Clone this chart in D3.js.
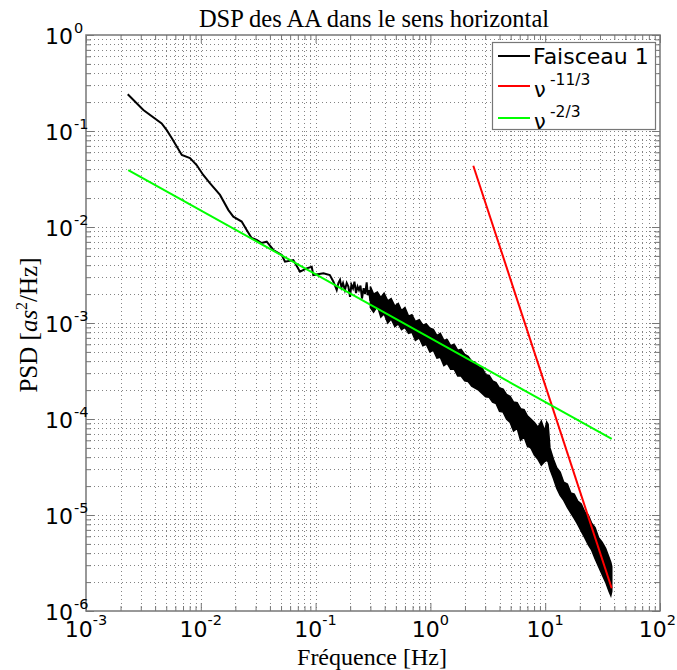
<!DOCTYPE html>
<html><head><meta charset="utf-8">
<script src="https://cdn.jsdelivr.net/npm/d3@7"></script>
<style>body{margin:0;background:#fff}</style></head>
<body>
<svg id="c" width="677" height="670"></svg>
<script>
// ---- data ----
const lineFreq = [0.00231, 0.00316, 0.00456, 0.00505, 0.00558, 0.00683, 0.00805, 0.0092, 0.0105, 0.012, 0.0147, 0.0174, 0.0192, 0.0227, 0.0251, 0.0277, 0.0307, 0.0339, 0.0375, 0.0429, 0.0507, 0.0541, 0.064, 0.0731, 0.0836, 0.0925, 0.0955, 0.117, 0.133, 0.143,
  0.1527, 0.158, 0.1632, 0.168, 0.1733, 0.18, 0.1866, 0.193, 0.1995, 0.205, 0.2117, 0.218, 0.2248, 0.232, 0.2388, 0.246, 0.2536, 0.262, 0.27, 0.2786, 0.285, 0.2918, 0.30];
const linePsd = [0.241, 0.1655, 0.120, 0.102, 0.0846, 0.0562, 0.0523, 0.0442, 0.0348, 0.0287, 0.0216, 0.0150, 0.0128, 0.0114, 0.00931, 0.00768, 0.00733, 0.00681, 0.00703, 0.00576, 0.00511, 0.00435, 0.00453, 0.00342, 0.00371, 0.00386, 0.00316, 0.0033, 0.00316, 0.00269,
  0.00221, 0.0026, 0.00281, 0.00235, 0.0026, 0.0022, 0.00261, 0.0024, 0.00187, 0.0025, 0.0023, 0.0027, 0.00205, 0.0024, 0.0022, 0.00245, 0.0018, 0.0023, 0.0020, 0.00265, 0.00195, 0.0022, 0.0017];
const bandFreq = [0.30, 0.32, 0.345, 0.37, 0.395, 0.425, 0.455, 0.49, 0.525, 0.56, 0.60, 0.645, 0.69, 0.74, 0.80, 0.86, 0.92, 0.99, 1.06, 1.14, 1.22, 1.31, 1.40, 1.50, 1.61, 1.73, 1.85, 1.99, 2.13, 2.29, 2.45, 2.63, 2.82, 3.03, 3.25, 3.48, 3.73, 4.0, 4.3, 4.6, 4.95, 5.3, 5.7, 6.1, 6.55, 7.0, 7.5, 8.05, 8.65, 9.25, 9.9, 10.3, 10.6, 11.0, 11.8, 12.6, 13.5, 14.5, 15.6, 16.7, 17.9, 19.2, 20.6, 22.1, 23.7, 25.4, 27.2, 29.2, 31.3, 33.6, 36.0, 37.3, 38.0];
const bandHigh = [2.4e-3, 2.0e-3, 2.1e-3, 1.85e-3, 2.05e-3, 1.7e-3, 1.8e-3, 1.5e-3, 1.6e-3, 1.35e-3, 1.45e-3, 1.18e-3, 1.22e-3, 1.04e-3, 1.08e-3, 9.5e-4, 9.8e-4, 8.8e-4, 8.6e-4, 7.4e-4, 7.8e-4, 6.6e-4, 6.7e-4, 5.8e-4, 6.0e-4, 5.2e-4, 5.3e-4, 4.7e-4, 4.5e-4, 4.0e-4, 3.9e-4, 3.5e-4, 3.4e-4, 2.9e-4, 2.85e-4, 2.5e-4, 2.4e-4, 2.1e-4, 2.05e-4, 1.8e-4, 1.72e-4, 1.5e-4, 1.48e-4, 1.28e-4, 1.25e-4, 1.08e-4, 1.0e-4, 9.2e-5, 8.2e-5, 9.5e-5, 7.5e-5, 9.3e-5, 8.8e-5, 5.0e-5, 3.8e-5, 3.1e-5, 2.8e-5, 2.2e-5, 2.1e-5, 1.7e-5, 1.65e-5, 1.4e-5, 1.3e-5, 1.08e-5, 1.0e-5, 8.2e-6, 7.4e-6, 5.8e-6, 5.2e-6, 4.5e-6, 3.6e-6, 3.2e-6, 2.9e-6];
const bandLow = [1.45e-3, 1.3e-3, 1.5e-3, 1.15e-3, 1.25e-3, 1.0e-3, 1.1e-3, 9.2e-4, 9.8e-4, 8.5e-4, 9.0e-4, 7.8e-4, 8.0e-4, 6.6e-4, 7.0e-4, 5.8e-4, 6.0e-4, 5.0e-4, 5.2e-4, 4.3e-4, 4.4e-4, 3.6e-4, 3.8e-4, 3.3e-4, 3.3e-4, 2.8e-4, 2.8e-4, 2.5e-4, 2.45e-4, 2.2e-4, 2.1e-4, 2.0e-4, 1.85e-4, 1.7e-4, 1.68e-4, 1.5e-4, 1.45e-4, 1.2e-4, 1.18e-4, 1.0e-4, 9.2e-5, 7.5e-5, 8.0e-5, 6.0e-5, 6.5e-5, 5.2e-5, 5.0e-5, 4.2e-5, 3.8e-5, 3.3e-5, 3.6e-5, 3.7e-5, 3.6e-5, 3.0e-5, 2.4e-5, 1.9e-5, 1.6e-5, 1.42e-5, 1.2e-5, 1.05e-5, 9.2e-6, 8.0e-6, 6.8e-6, 5.8e-6, 4.9e-6, 4.3e-6, 3.5e-6, 2.9e-6, 2.4e-6, 2.0e-6, 1.6e-6, 1.45e-6, 1.6e-6];
const redFreq = [2.364, 37.96];
const redPsd = [0.0435, 1.724e-6];
const greenFreq = [0.002335, 37.96];
const greenPsd = [0.0392, 6.19e-5];
const xTickExp = [-3, -2, -1, 0, 1, 2];
const yTickExp = [-6, -5, -4, -3, -2, -1, 0];
const legendNames = ["Faisceau 1", "ν", "ν"];
const legendSup = ["", "-11/3", "-2/3"];
const legendColors = ["#000000", "#ff0000", "#00ff00"];
const titleText = "DSP des AA dans le sens horizontal";
const xLabelText = "Fréquence [Hz]";

// ---- layout ----
const W = 677, L = 86, R = 660, T = 35, B = 611;
const svg = d3.select("#c");
const x = d3.scaleLog().domain([1e-3, 1e2]).range([L, R]);
const y = d3.scaleLog().domain([1e-6, 1]).range([B, T]);

const minorX = [], minorY = [];
for (let e = -3; e < 2; e++) for (let m = 2; m <= 9; m++) minorX.push(m * Math.pow(10, e));
for (let e = -6; e < 0; e++) for (let m = 2; m <= 9; m++) minorY.push(m * Math.pow(10, e));
const majorX = xTickExp.map(e => Math.pow(10, e));
const majorY = yTickExp.map(e => Math.pow(10, e));

// grid
const grid = svg.append("g").attr("stroke", "#333").attr("stroke-width", 1).attr("stroke-dasharray", "1,3").attr("opacity", 0.6);
grid.selectAll(".gx").data(minorX.concat(majorX.slice(1, -1))).enter().append("line")
  .attr("x1", d => Math.round(x(d)) + 0.5).attr("x2", d => Math.round(x(d)) + 0.5).attr("y1", T).attr("y2", B);
grid.selectAll(".gy").data(minorY.concat(majorY.slice(1, -1))).enter().append("line")
  .attr("y1", d => Math.round(y(d)) + 0.5).attr("y2", d => Math.round(y(d)) + 0.5).attr("x1", L).attr("x2", R);

// axes ticks (inside)
function ax(gen, tr) {
  const g = svg.append("g").attr("transform", tr).call(gen);
  g.select(".domain").remove();
  g.selectAll("text").remove();
  g.selectAll("line").attr("stroke", "#777");
  return g;
}
ax(d3.axisBottom(x).tickValues(majorX).tickSize(-8), `translate(0,${B})`);
ax(d3.axisBottom(x).tickValues(minorX).tickSize(-5), `translate(0,${B})`);
ax(d3.axisTop(x).tickValues(majorX).tickSize(-8), `translate(0,${T})`);
ax(d3.axisTop(x).tickValues(minorX).tickSize(-5), `translate(0,${T})`);
ax(d3.axisLeft(y).tickValues(majorY).tickSize(-8), `translate(${L},0)`);
ax(d3.axisLeft(y).tickValues(minorY).tickSize(-5), `translate(${L},0)`);
ax(d3.axisRight(y).tickValues(majorY).tickSize(-8), `translate(${R},0)`);
ax(d3.axisRight(y).tickValues(minorY).tickSize(-5), `translate(${R},0)`);

// data
svg.append("defs").append("clipPath").attr("id", "pc").append("rect")
  .attr("x", L).attr("y", T).attr("width", R - L).attr("height", B - T);
const plot = svg.append("g").attr("clip-path", "url(#pc)");

const band = bandFreq.map((f, i) => ({ f, hi: bandHigh[i], lo: bandLow[i] }));
plot.append("path").datum(band)
  .attr("d", d3.area().x(d => x(d.f)).y0(d => y(d.lo)).y1(d => y(d.hi)))
  .attr("fill", "#000").attr("stroke", "#000").attr("stroke-width", 1.5).attr("stroke-linejoin", "miter");
const lineData = lineFreq.map((f, i) => ({ f, p: linePsd[i] }));
plot.append("path").datum(lineData)
  .attr("d", d3.line().x(d => x(d.f)).y(d => y(d.p)))
  .attr("fill", "none").attr("stroke", "#000").attr("stroke-width", 2);
plot.append("path").datum(redFreq.map((f, i) => ({ f, p: redPsd[i] })))
  .attr("d", d3.line().x(d => x(d.f)).y(d => y(d.p)))
  .attr("fill", "none").attr("stroke", "#ff0000").attr("stroke-width", 2);
plot.append("path").datum(greenFreq.map((f, i) => ({ f, p: greenPsd[i] })))
  .attr("d", d3.line().x(d => x(d.f)).y(d => y(d.p)))
  .attr("fill", "none").attr("stroke", "#00ff00").attr("stroke-width", 2);

// frame
svg.append("rect").attr("x", L).attr("y", T).attr("width", R - L).attr("height", B - T)
  .attr("fill", "none").attr("stroke", "#777").attr("stroke-width", 1.5);

// tick labels
const sans = "DejaVu Sans, sans-serif";
xTickExp.forEach(e => {
  const t = svg.append("text").attr("x", x(Math.pow(10, e))).attr("y", 637)
    .attr("font-family", sans).attr("font-size", 22).attr("fill", "#000").attr("text-anchor", "middle");
  t.append("tspan").text("10");
  t.append("tspan").attr("font-size", 14.5).attr("dy", -12).text(e);
  const bb = t.node().getBBox();
  if (bb.x + bb.width > W - 1) t.attr("x", +t.attr("x") - (bb.x + bb.width - (W - 1)));
});
yTickExp.forEach(e => {
  svg.append("text").attr("x", 73).attr("y", y(Math.pow(10, e)) + 9)
    .attr("font-family", sans).attr("font-size", 22).attr("fill", "#000").attr("text-anchor", "end").text("10");
  svg.append("text").attr("x", 74).attr("y", y(Math.pow(10, e)) - 2)
    .attr("font-family", sans).attr("font-size", 14.5).attr("fill", "#000").text(e);
});

// titles
const serif = "Liberation Serif, serif";
svg.append("text").attr("x", 374).attr("y", 27).attr("text-anchor", "middle")
  .attr("font-family", serif).attr("font-size", 24.5).text(titleText);
svg.append("text").attr("x", 372).attr("y", 665).attr("text-anchor", "middle")
  .attr("font-family", serif).attr("font-size", 24).text(xLabelText);
const yl = svg.append("text").attr("transform", "translate(37,325) rotate(-90)").attr("text-anchor", "middle")
  .attr("font-family", serif).attr("font-size", 25);
yl.append("tspan").text("PSD [");
yl.append("tspan").attr("font-style", "italic").text("as");
yl.append("tspan").attr("font-size", 16).attr("dy", -10).text("2");
yl.append("tspan").attr("dy", 10).text("/Hz]");

// legend
const lg = svg.append("g");
lg.append("rect").attr("x", 492.5).attr("y", 42.5).attr("width", 163).attr("height", 87)
  .attr("fill", "#fff").attr("stroke", "#777").attr("stroke-width", 1.2);
const rowY = [56, 86, 118];
legendNames.forEach((n, i) => {
  lg.append("line").attr("x1", 498).attr("x2", 530).attr("y1", rowY[i]).attr("y2", rowY[i])
    .attr("stroke", legendColors[i]).attr("stroke-width", 2);
  if (i === 0) {
    lg.append("text").attr("x", 533).attr("y", 64).attr("font-family", sans).attr("font-size", 22).text(n);
  } else {
    lg.append("text").attr("x", 534).attr("y", rowY[i] + 11).attr("font-family", sans).attr("font-size", 21).text(n);
    lg.append("text").attr("x", 550).attr("y", rowY[i] - 1).attr("font-family", sans).attr("font-size", 15.5).text(legendSup[i]);
  }
});
</script>
</body></html>
